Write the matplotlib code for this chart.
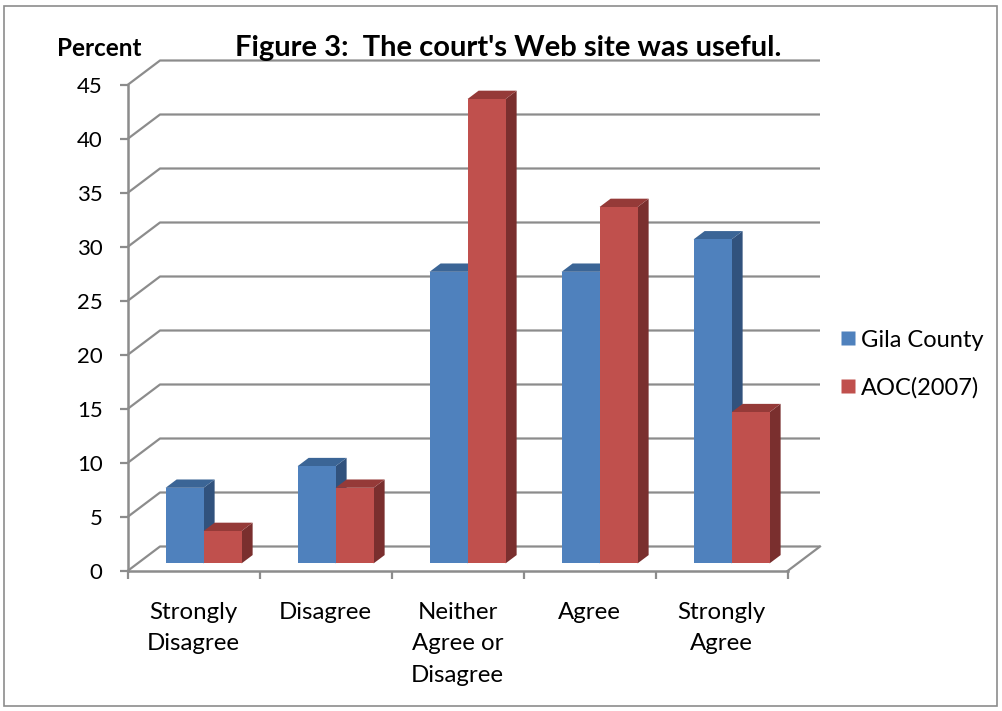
import matplotlib
matplotlib.use("Agg")
import matplotlib.pyplot as plt
from matplotlib.patches import Polygon, Rectangle
from matplotlib.lines import Line2D

plt.rcParams['font.family'] = ['Lato', 'DejaVu Sans']

categories = ["Strongly\nDisagree", "Disagree", "Neither\nAgree or\nDisagree", "Agree", "Strongly\nAgree"]
gila = [7, 9, 27, 27, 30]
aoc = [3, 7, 43, 33, 14]
series_names = ["Gila County", "AOC(2007)"]
yticks = list(range(0, 50, 5))

front_cols = ["#4F81BD", "#C0504D"]
top_cols = ["#3B6596", "#953A38"]
side_cols = ["#31527D", "#7A2F2E"]
grid_col = "#8C8C8C"

W, H = 1002, 711
fig = plt.figure(figsize=(W / 100, H / 100), dpi=100)
x0, y0, x1, y1 = 127.5, 571, 787.5, 85
ax = fig.add_axes([x0 / W, (H - y0) / H, (x1 - x0) / W, (y0 - y1) / H])
n = len(categories)
ax.set_xlim(0, n)
ax.set_ylim(0, 45)
ax.patch.set_visible(False)

# depth vector (data units)
Dx = 32.5 / ((x1 - x0) / n)
Dy = 24.5 / ((y0 - y1) / 45)

# walls / gridlines
for v in yticks:
    ax.plot([0, Dx, n + Dx], [v, v + Dy, v + Dy], color=grid_col, lw=1.6,
            clip_on=False, zorder=1, solid_capstyle='butt')
ax.plot([n, n + Dx], [0, Dy], color=grid_col, lw=1.6, clip_on=False, zorder=1)

# bars
f0, f1 = 0.31, 0.65
t = f1 - f0
w = 38 / ((x1 - x0) / n)
base = f0 * Dy
for s, vals in enumerate([gila, aoc]):
    for i, v in enumerate(vals):
        xl = i + 0.5 + f0 * Dx - w + s * w
        xr = xl + w
        top = base + v
        z = 3 + i * 2 + s
        side = Polygon([(xr, base), (xr + t * Dx, base + t * Dy),
                        (xr + t * Dx, top + t * Dy), (xr, top)],
                       closed=True, facecolor=side_cols[s], edgecolor='none',
                       zorder=z, clip_on=False)
        tp = Polygon([(xl, top), (xr, top), (xr + t * Dx, top + t * Dy),
                      (xl + t * Dx, top + t * Dy)],
                     closed=True, facecolor=top_cols[s], edgecolor='none',
                     zorder=z, clip_on=False)
        ax.add_patch(side)
        ax.add_patch(tp)
        ax.bar(xl, v, width=w, bottom=base, align='edge', color=front_cols[s],
               edgecolor='none', zorder=z + 0.5, clip_on=False)

# axes styling
for sp in ['top', 'right']:
    ax.spines[sp].set_visible(False)
for sp in ['left', 'bottom']:
    ax.spines[sp].set_color(grid_col)
    ax.spines[sp].set_linewidth(1.8)
    ax.spines[sp].set_zorder(2)

ax.set_yticks(yticks)
ax.set_yticklabels([str(v) for v in yticks])
ax.tick_params(axis='y', direction='out', length=6, width=1.6, color=grid_col,
               pad=12, labelsize=16, labelcolor='#000000')
ax.set_xticks([i + 0.5 for i in range(n)])
ax.set_xticklabels(categories, linespacing=1.62, ha='center')
ax.set_xticks(list(range(n + 1)), minor=True)
ax.tick_params(axis='x', which='major', length=0, pad=22, labelsize=17.3)
ax.tick_params(axis='x', which='minor', direction='out', length=6, width=1.6,
               color=grid_col)

# title and y label
fig.text(508 / W, 1 - 48 / H, "Figure 3:  The court's Web site was useful.",
         ha='center', va='center', fontsize=21, fontweight='bold')
fig.text(99.5 / W, 1 - 48 / H, "Percent", ha='center', va='center',
         fontsize=17.5, fontweight='bold')

# legend
handles = [Line2D([], [], marker='s', linestyle='none', markersize=10,
                  markerfacecolor=c, markeredgecolor='none') for c in front_cols]
fig.legend(handles, series_names, loc='center left',
           bbox_to_anchor=(819.6 / W, 1 - 364 / H), frameon=False, fontsize=17,
           handlelength=0.6, handletextpad=0.25, labelspacing=1.12)

# outer border
fig.patches.append(Rectangle((4 / W, 5 / H), (W - 9) / W, (H - 11) / H,
                             transform=fig.transFigure, fill=False,
                             edgecolor='#8C8C8C', lw=1.2))

fig.savefig("out.png", dpi=100)
